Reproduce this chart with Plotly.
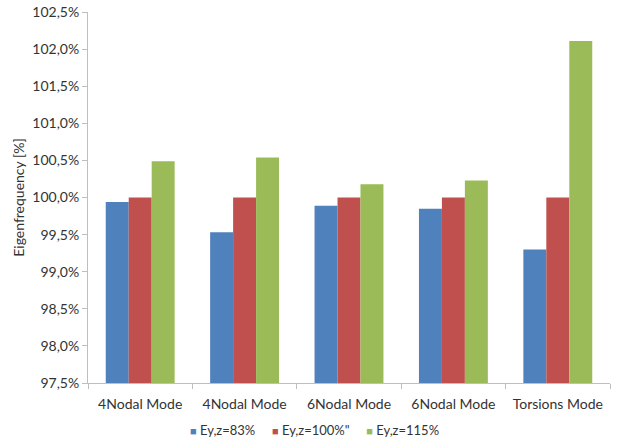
import plotly.graph_objects as go

# Mode shapes along the x axis
modes = ["4Nodal Mode", "4Nodal Mode", "6Nodal Mode", "6Nodal Mode", "Torsions Mode"]

# Relative eigenfrequencies (fraction of the reference, 1.0 = 100 %)
ey83 = [0.9994, 0.9953, 0.9989, 0.9985, 0.9930]
ey100 = [1.0000, 1.0000, 1.0000, 1.0000, 1.0000]
ey115 = [1.0049, 1.0054, 1.0018, 1.0023, 1.0211]

series_names = ["Ey,z=83%", "Ey,z=100%\"", "Ey,z=115%"]
colors = ["#4F81BD", "#C0504D", "#9BBB59"]

x = list(range(len(modes)))
base = 0.975

fig = go.Figure()
for name, vals, col in zip(series_names, [ey83, ey100, ey115], colors):
    fig.add_trace(go.Bar(
        x=x, y=[v - base for v in vals], base=base, name=name,
        marker=dict(color=col, line=dict(width=0)),
        showlegend=False,
    ))

# Compact legend row: coloured square followed by series name
legend_text = "     ".join(
    f"<span style='color:{c};font-size:11px'>■</span> {n}"
    for n, c in zip(series_names, colors)
)
fig.add_annotation(
    text=legend_text, xref="paper", yref="paper",
    x=0.433, y=-0.127, xanchor="center", yanchor="middle",
    showarrow=False, font=dict(size=13, color="#333333"),
)

fig.update_layout(
    width=624, height=443,
    margin=dict(l=88, r=14, t=12, b=60, autoexpand=False),
    paper_bgcolor="white", plot_bgcolor="white",
    separators=",.",
    font=dict(family="Lato, 'Open Sans', sans-serif", size=14, color="#333333"),
    barmode="group", bargap=0.34, bargroupgap=0,
    yaxis=dict(
        range=[0.975, 1.025], dtick=0.005, tick0=0.975, tickformat=".1%",
        showgrid=False, zeroline=False, automargin=False,
        showline=True, linecolor="#BFBFBF", linewidth=1,
        ticks="outside", ticklen=5, tickcolor="#BFBFBF",
        title=dict(text="Eigenfrequency [%]", font=dict(size=14), standoff=4),
    ),
    xaxis=dict(
        range=[-0.5, 4.5], tickvals=x, ticktext=modes, ticks="",
        ticklabelstandoff=8, automargin=False,
        showgrid=False, zeroline=False,
        showline=True, linecolor="#BFBFBF", linewidth=1,
        minor=dict(tickvals=[i - 0.5 for i in range(len(modes) + 1)],
                   ticks="outside", ticklen=5, tickcolor="#BFBFBF", showgrid=False),
    ),
)

fig.write_html("out.html")
